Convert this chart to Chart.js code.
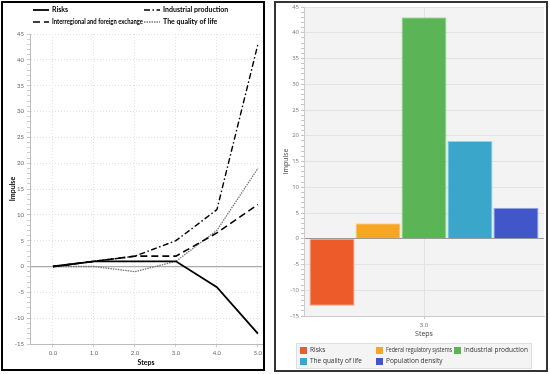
<!DOCTYPE html>
<html>
<head>
<meta charset="utf-8">
<script src="https://cdn.jsdelivr.net/npm/chart.js@4/dist/chart.umd.min.js"></script>
<style>
  body { margin: 0; background: #fff; width: 550px; height: 374px; overflow: hidden; }
  .panel { position: absolute; }
  #left { left: 1px; top: 1px; width: 260px; height: 366px; border: 2px solid #000; }
  #right { left: 274px; top: 1px; width: 270px; height: 367px; border: 2px solid #333; }
</style>
</head>
<body>
<div class="panel" id="left"><canvas id="lineChart" width="260" height="366"></canvas></div>
<div class="panel" id="right"><canvas id="barChart" width="270" height="367"></canvas></div>
<script>
// line chart data (impulse responses)
var steps = [0, 1, 2, 3, 4, 5];
var risks = [0, 1, 1, 1, -4, -13];
var industrialProduction = [0, 1, 2, 5, 11, 43];
var interregionalExchange = [0, 1, 2, 2, 6.5, 12];
var qualityOfLife = [0, 0, -1, 1, 7, 19];

// bar chart data
var barCategories = ['3.0'];
var barLabels = ['Risks', 'Federal regulatory systems', 'Industrial production', 'The quality of life', 'Population density'];
var barValues = [-13, 3, 43, 19, 6];
var barColors = ['#ee5b2b', '#f6a623', '#5bb456', '#3aa6c9', '#4156c8'];
var barBorders = ['#f4a080', '#fbd18a', '#a6dca0', '#94d3e8', '#98a4e6'];

// y axis range
var yMin = -15, yMax = 45, yMajor = 5;

function pairs(values) {
  return steps.map(function(s, i) { return { x: s, y: values[i] }; });
}

function noPad(scale) { scale.paddingLeft = 0; scale.paddingRight = 0; scale.paddingTop = 0; scale.paddingBottom = 0; }

// legend for the line chart, drawn as a 2 column grid
var lineLegend = {
  id: 'lineLegend',
  afterDraw: function(chart) {
    var ctx = chart.ctx;
    ctx.save();
    ctx.font = 'bold 7px Lato';
    ctx.fillStyle = '#000';
    ctx.textBaseline = 'middle';
    chart.data.datasets.forEach(function(ds, i) {
      var col = i % 2, row = Math.floor(i / 2);
      var x0 = col === 0 ? 30 : 141;
      var y = 7 + row * 12;
      ctx.beginPath();
      ctx.strokeStyle = ds.borderColor;
      ctx.lineWidth = ds.borderWidth;
      ctx.setLineDash(ds.borderDash || []);
      ctx.moveTo(x0, y);
      ctx.lineTo(x0 + 16, y);
      ctx.stroke();
      ctx.setLineDash([]);
      ctx.fillText(ds.label, x0 + 19, y, 91);
    });
    ctx.restore();
  }
};

// plot background + legend box for bar chart
var barExtras = {
  id: 'barExtras',
  beforeDraw: function(chart) {
    var a = chart.chartArea, ctx = chart.ctx;
    ctx.save();
    ctx.fillStyle = '#f3f3f3';
    ctx.fillRect(a.left, a.top, a.right - a.left, a.bottom - a.top);
    ctx.restore();
  },
  afterDraw: function(chart) {
    var ctx = chart.ctx;
    ctx.save();
    ctx.fillStyle = '#f4f4f4';
    ctx.fillRect(20, 340, 235, 25);
    ctx.strokeStyle = '#dedede';
    ctx.lineWidth = 1;
    ctx.strokeRect(20.5, 340.5, 235, 25);
    ctx.font = '6.5px "Open Sans"';
    ctx.textBaseline = 'middle';
    var cols = [24, 100, 178];
    chart.data.datasets.forEach(function(ds, i) {
      var col = i % 3, row = Math.floor(i / 3);
      var x = cols[col], y = 344 + row * 11;
      ctx.fillStyle = ds.backgroundColor;
      ctx.fillRect(x, y, 7, 7);
      ctx.fillStyle = '#333';
      ctx.fillText(ds.label, x + 10, y + 3.5, 66);
    });
    ctx.restore();
  }
};

var lineCtx = document.getElementById('lineChart').getContext('2d');
var lineChart = new Chart(lineCtx, {
  type: 'line',
  data: {
    datasets: [{
      label: 'Risks',
      data: pairs(risks),
      borderColor: '#000',
      borderWidth: 1.8
    }, {
      label: 'Industrial production',
      data: pairs(industrialProduction),
      borderColor: '#000',
      borderWidth: 1.4,
      borderDash: [6, 2.5, 1.5, 2.5]
    }, {
      label: 'Interregional and foreign exchange',
      data: pairs(interregionalExchange),
      borderColor: '#000',
      borderWidth: 1.6,
      borderDash: [7, 4]
    }, {
      label: 'The quality of life',
      data: pairs(qualityOfLife),
      borderColor: '#777',
      borderWidth: 1.3,
      borderDash: [1.5, 1]
    }]
  },
  options: {
    responsive: false,
    animation: false,
    devicePixelRatio: 1,
    elements: { point: { radius: 0 }, line: { tension: 0 } },
    layout: { padding: { left: 0, top: 31, right: 1, bottom: 0 } },
    plugins: { legend: { display: false }, tooltip: { enabled: false } },
    scales: {
      x: {
        type: 'linear',
        min: -0.56,
        max: 5.1,
        afterFit: function(scale) { scale.height = 25; noPad(scale); },
        ticks: {
          stepSize: 1,
          includeBounds: false,
          padding: 2,
          color: '#666',
          font: { size: 6, family: 'Lato' },
          callback: function(v) { return Number.isInteger(v) ? v.toFixed(1) : ''; }
        },
        grid: { color: '#e4e4e4', tickColor: '#ccc', tickLength: 3 },
        border: { color: '#bbb', dash: [1, 2] },
        title: { display: true, text: 'Steps', color: '#000', font: { size: 7, weight: 'bold', family: 'Lato' }, padding: { top: 0, bottom: 2 } }
      },
      y: {
        min: yMin,
        max: yMax,
        afterFit: function(scale) { scale.width = 27; noPad(scale); },
        ticks: {
          stepSize: 1,
          autoSkip: false,
          padding: 3,
          color: '#666',
          font: { size: 6, family: 'Lato' },
          callback: function(v) { return v % yMajor === 0 ? v : ''; }
        },
        grid: {
          color: function(c) {
            if (!c.tick) return 'transparent';
            if (c.tick.value === 0) return '#aaa';
            return c.tick.value % yMajor === 0 ? '#e2e2e2' : 'transparent';
          },
          lineWidth: function(c) { return c.tick && c.tick.value === 0 ? 1.3 : 1; },
          tickColor: '#ccc',
          tickLength: 3
        },
        border: {
          color: '#bbb',
          dash: function(c) { return c.tick && c.tick.value === 0 ? [] : [1, 2]; }
        },
        title: { display: true, text: 'Impulse', color: '#000', font: { size: 7, weight: 'bold', family: 'Lato' }, padding: { top: 6, bottom: 0 } }
      }
    }
  },
  plugins: [lineLegend]
});

var barCtx = document.getElementById('barChart').getContext('2d');
var barChart = new Chart(barCtx, {
  type: 'bar',
  data: {
    labels: barCategories,
    datasets: barLabels.map(function(label, i) {
      return {
        label: label,
        data: [barValues[i]],
        backgroundColor: barColors[i],
        borderColor: barBorders[i],
        borderWidth: 1,
        categoryPercentage: 0.958,
        barPercentage: 0.98
      };
    })
  },
  options: {
    responsive: false,
    animation: false,
    devicePixelRatio: 1,
    layout: { padding: { left: 0, top: 4, right: 2, bottom: 30 } },
    plugins: { legend: { display: false }, tooltip: { enabled: false } },
    scales: {
      x: {
        afterFit: function(scale) { scale.height = 24; noPad(scale); },
        ticks: { padding: 3, color: '#666', font: { size: 6, family: 'Open Sans' } },
        grid: { offset: false, color: '#e2e2e2', tickColor: '#ccc', tickLength: 3 },
        border: { color: '#ccc' },
        title: { display: true, text: 'Steps', color: '#444', font: { size: 7, family: 'Open Sans' }, padding: { top: 0, bottom: 2 } }
      },
      y: {
        min: yMin,
        max: yMax,
        afterFit: function(scale) { scale.width = 28; noPad(scale); },
        ticks: {
          stepSize: 1,
          autoSkip: false,
          padding: 2,
          color: '#777',
          font: { size: 6, family: 'Open Sans' },
          callback: function(v) { return v % yMajor === 0 ? v : ''; }
        },
        grid: {
          color: function(c) {
            if (!c.tick) return 'transparent';
            if (c.tick.value === 0) return '#9a9a9a';
            return c.tick.value % yMajor === 0 ? '#e2e2e2' : 'transparent';
          },
          tickColor: '#c4c4c4',
          tickLength: 3
        },
        border: { color: '#ccc' },
        title: { display: true, text: 'Impulse', color: '#444', font: { size: 7, family: 'Open Sans' }, padding: { top: 6, bottom: 0 } }
      }
    }
  },
  plugins: [barExtras]
});
</script>
</body>
</html>
